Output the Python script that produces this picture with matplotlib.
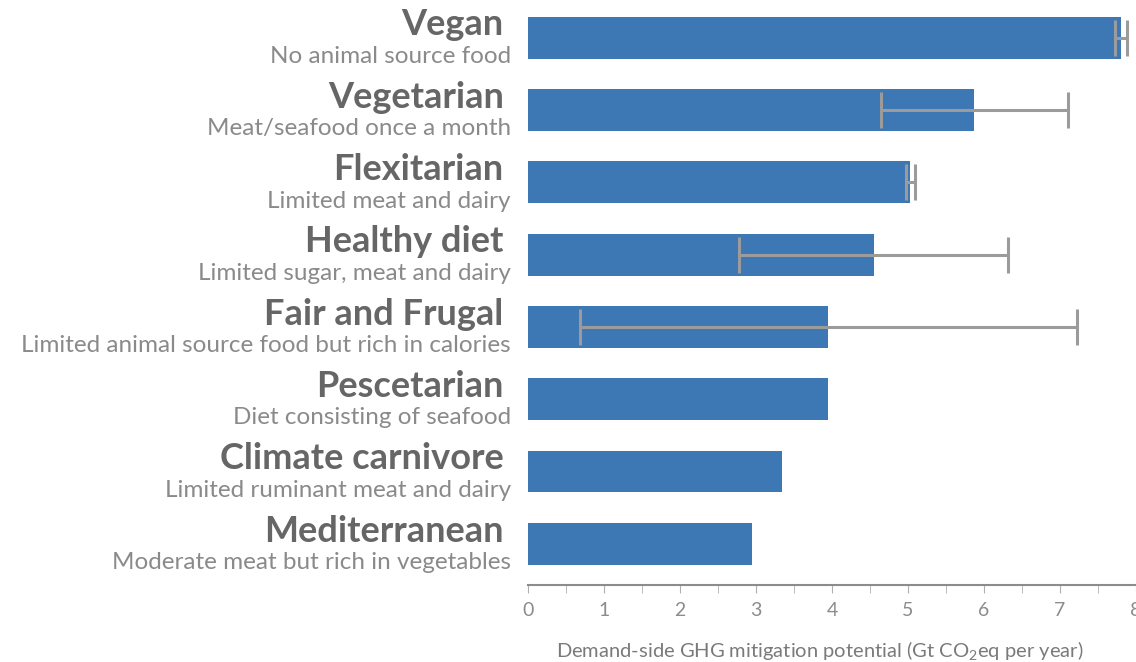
import numpy as np
import matplotlib
matplotlib.use("Agg")
import matplotlib.pyplot as plt
from matplotlib.ticker import MultipleLocator

plt.rcParams['font.family'] = ['Lato', 'DejaVu Sans']
plt.rcParams['mathtext.fontset'] = 'custom'
plt.rcParams['mathtext.rm'] = 'Lato'
plt.rcParams['mathtext.it'] = 'Lato:italic'

diets = ["Vegan", "Vegetarian", "Flexitarian", "Healthy diet", "Fair and Frugal",
         "Pescetarian", "Climate carnivore", "Mediterranean"]
descriptions = ["No animal source food",
                "Meat/seafood once a month",
                "Limited meat and dairy",
                "Limited sugar, meat and dairy",
                "Limited animal source food but rich in calories",
                "Diet consisting of seafood",
                "Limited ruminant meat and dairy",
                "Moderate meat but rich in vegetables"]
potential = [7.8, 5.87, 5.03, 4.55, 3.95, 3.95, 3.34, 2.95]
error = [0.08, 1.23, 0.06, 1.77, 3.27, 0, 0, 0]

bar_color = '#3d78b4'
err_color = '#9b9b9b'
title_color = '#666666'
sub_color = '#8a8a8a'

fig = plt.figure(figsize=(11.36, 6.62), dpi=100)
ax = fig.add_axes([528 / 1136, 1 - 585 / 662, 608 / 1136, 585 / 662])

y = np.arange(len(diets))
has_err = np.array(error) > 0
ax.barh(y, potential, height=0.58, color=bar_color, zorder=2)
ax.errorbar(np.array(potential)[has_err], y[has_err], xerr=np.array(error)[has_err],
            fmt='none', ecolor=err_color, elinewidth=2.2, capsize=13, capthick=2.2, zorder=3)

# two-line category labels: diet name above, short description below
for i, (name, desc) in enumerate(zip(diets, descriptions)):
    ax.text(-0.04, i - 0.03, name, transform=ax.get_yaxis_transform(),
            ha='right', va='baseline', fontsize=26, fontweight='bold', color=title_color)
    ax.text(-0.028, i + 0.35, desc, transform=ax.get_yaxis_transform(),
            ha='right', va='baseline', fontsize=17.5, color=sub_color)

ax.set_xlim(0, 8)
ax.set_ylim(7.57, -0.52)
ax.set_yticks([])
for s in ['top', 'right', 'left']:
    ax.spines[s].set_visible(False)
ax.spines['bottom'].set_color('#8c8c8c')
ax.spines['bottom'].set_linewidth(1.5)

ax.xaxis.set_major_locator(MultipleLocator(1))
ax.xaxis.set_minor_locator(MultipleLocator(0.5))
ax.tick_params(axis='x', which='both', length=6, color='#b0b0b0', labelsize=14,
               labelcolor='#8c8c8c', pad=6)

ax.set_xlabel("Demand-side GHG mitigation potential (Gt CO$_2$eq per year)",
              fontsize=14.5, color='#7a7a7a')
ax.xaxis.set_label_coords(0.48, -0.092)

fig.savefig('out.png', dpi=100)
